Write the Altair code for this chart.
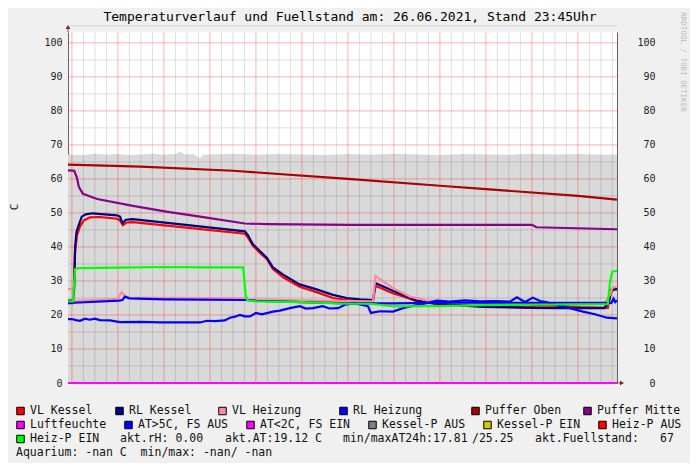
import altair as alt
import pandas as pd

# ---------------- data (time in hours after Sat 00:00) ----------------
fuell_h = [-0.17, 0.5, 1.0, 1.5, 2.0, 2.5, 3.0, 3.5, 4.0, 4.5, 4.7, 4.9, 5.3, 5.57, 5.7, 6.0, 7.0, 8.0,
           9.0, 10.0, 11.0, 12.0, 13.0, 14.0, 15.0, 16.0, 17.0, 18.0, 19.0, 20.0, 21.0, 22.0, 23.0, 23.7]
fuell_v = [67.2, 67.0, 67.4, 67.1, 67.3, 67.0, 67.2, 67.4, 67.1, 67.3, 68.0, 67.2, 67.3, 65.9, 67.0, 67.2, 67.4, 67.1,
           67.3, 67.2, 67.0, 67.3, 67.1, 67.4, 67.2, 67.0, 67.3, 67.2, 67.1, 67.4, 67.2, 67.3, 67.1, 67.2]

vl_kessel_h = [-0.17, 0.05, 0.07, 0.13, 0.22, 0.35, 0.52, 0.78, 1.2, 1.96, 2.09, 2.22, 2.39, 2.65, 7.52, 7.65, 7.87,
               8.17, 8.48, 8.74, 9.2, 9.9, 10.6, 11.35, 11.95, 12.52, 13.09, 13.2, 13.6, 13.95, 14.5, 15.0, 16.0,
               17.87, 19.9, 20.2, 21.2, 22.1, 23.3, 23.43, 23.57, 23.7]
vl_kessel_v = [23.5, 23.5, 24.0, 38.0, 43.5, 46.0, 47.8, 48.7, 48.8, 48.3, 47.8, 46.4, 47.2, 47.3, 43.9, 42.8, 40.3,
               38.3, 36.4, 33.5, 31.0, 28.3, 26.8, 25.0, 24.4, 24.0, 23.9, 28.6, 27.4, 26.4, 25.2, 24.0, 23.1,
               22.6, 22.3, 22.8, 22.7, 22.3, 22.1, 26.5, 27.6, 27.6]

rl_kessel_h = [-0.17, 0.05, 0.1, 0.14, 0.2, 0.3, 0.43, 0.6, 0.9, 1.96, 2.09, 2.2, 2.35, 2.65, 7.52, 7.65, 7.87,
               8.17, 8.48, 8.74, 9.2, 9.9, 10.6, 11.35, 11.95, 12.52, 13.09, 13.2, 13.95, 15.0, 16.0, 17.87,
               19.9, 21.2, 23.15, 23.35, 23.45, 23.7]
rl_kessel_v = [24.2, 24.2, 28.0, 40.0, 44.5, 46.5, 48.9, 49.6, 49.9, 49.3, 48.9, 47.0, 48.0, 48.2, 44.6, 43.5, 40.8,
               38.8, 36.8, 34.0, 31.8, 29.0, 27.6, 25.9, 25.0, 24.6, 24.4, 29.4, 27.1, 24.2, 23.2, 22.4,
               22.1, 22.0, 22.0, 24.0, 27.4, 27.6]

vl_heizung_h = [-0.17, 0.03, 0.08, 0.5, 1.5, 2.0, 2.09, 2.17, 2.3, 2.5, 4.0, 7.52, 7.65, 10.0, 12.0, 13.09, 13.2,
                13.4, 13.95, 14.7, 15.43, 16.5, 20.0, 23.15, 23.4, 23.5, 23.7]
vl_heizung_v = [27.6, 27.6, 24.1, 24.3, 24.6, 24.8, 26.0, 26.6, 25.6, 25.1, 25.0, 24.9, 24.6, 24.3, 24.1, 24.0, 31.5,
                30.5, 27.9, 25.4, 24.3, 23.8, 23.5, 23.3, 26.0, 28.0, 28.3]

rl_heizung_h = [-0.17, 0.1, 2.04, 2.2, 2.3, 2.5, 4.0, 7.52, 8.0, 10.0, 12.0, 14.0, 16.0, 20.0, 23.3, 23.45, 23.55,
                23.62, 23.7]
rl_heizung_v = [23.5, 23.6, 24.2, 24.4, 25.4, 24.9, 24.6, 24.4, 24.2, 23.8, 23.4, 23.4, 23.6, 23.6, 23.6, 23.5, 24.8,
                23.8, 24.3]

puffer_oben_h = [-0.17, 3.0, 7.0, 12.0, 16.0, 18.0, 22.0, 23.7]
puffer_oben_v = [64.2, 63.6, 62.4, 60.0, 58.0, 57.0, 55.0, 53.9]

puffer_mitte_h = [-0.17, 0.1, 0.22, 0.3, 0.48, 1.1, 2.65, 4.1, 5.57, 7.52, 8.5, 12.09, 20.0, 20.2, 23.7]
puffer_mitte_v = [62.5, 62.4, 60.3, 57.7, 55.6, 54.1, 52.1, 50.4, 48.9, 46.9, 46.7, 46.5, 46.5, 45.8, 45.2]

luftfeuchte_h = [-0.17, 23.7]
luftfeuchte_v = [0.0, 0.0]

at_h = [-0.17, 0.0, 0.17, 0.35, 0.57, 0.78, 1.0, 1.22, 1.65, 2.09, 2.96, 3.83, 4.7, 5.57, 5.87, 6.22, 6.65, 6.87,
        7.09, 7.3, 7.52, 7.74, 8.0, 8.26, 8.74, 9.04, 9.48, 9.91, 10.17, 10.48, 10.9, 11.2, 11.57, 11.87, 12.3,
        12.87, 13.0, 13.39, 13.96, 14.39, 14.9, 15.43, 15.87, 16.43, 17.09, 17.74, 18.39, 19.04, 19.35, 19.7,
        20.04, 20.35, 20.57, 21.09, 21.65, 22.22, 22.74, 23.26, 23.7]
at_v = [18.8, 18.8, 18.5, 18.3, 18.9, 18.6, 18.9, 18.5, 18.4, 17.9, 18.0, 17.8, 17.8, 17.8, 18.3, 18.2, 18.4, 19.2,
        19.5, 20.0, 19.6, 19.6, 20.6, 20.2, 21.0, 21.3, 22.0, 22.6, 21.9, 22.0, 22.6, 21.9, 22.0, 23.0, 23.4,
        22.6, 20.6, 21.1, 21.0, 22.0, 22.8, 23.5, 24.2, 23.9, 24.3, 24.0, 24.1, 23.9, 25.2, 23.8,
        25.1, 24.1, 23.9, 22.9, 22.0, 21.0, 20.2, 19.2, 19.0]

heizp_h = [-0.17, 0.05, 0.1, 0.14, 0.3, 2.0, 4.0, 6.0, 7.45, 7.55, 7.62, 8.0, 10.0, 12.0, 13.0, 14.0, 16.0, 18.0,
           20.0, 23.3, 23.4, 23.5, 23.7]
heizp_v = [24.0, 24.0, 30.0, 33.5, 33.8, 33.9, 34.1, 34.0, 34.0, 26.0, 24.3, 24.0, 23.8, 23.3, 23.3, 22.5, 22.6, 22.9,
           23.0, 23.2, 30.0, 32.7, 33.0]

# legend
legend_labels = ["VL Kessel", "RL Kessel", "VL Heizung", "RL Heizung", "Puffer Oben", "Puffer Mitte",
                 "Luftfeuchte", "AT>5C, FS AUS", "AT<2C, FS EIN", "Kessel-P AUS", "Kessel-P EIN", "Heiz-P AUS",
                 "Heiz-P EIN"]
legend_colors = ["#FF0000", "#000080", "#FF8C9E", "#0000FF", "#AA0000", "#880088",
                 "#FF00FF", "#0000FF", "#FF00FF", "#808080", "#CCCC00", "#FF0000", "#00FF00"]
info_texts = ["akt.rH: 0.00", "akt.AT:19.12 C", "min/maxAT24h:17.81", "/25.25", "akt.Fuellstand:", "67",
              "Aquarium: -nan C\u00a0\u00a0min/max: -nan/\u00a0-nan"]

title_text = "Temperaturverlauf und Fuellstand am: 26.06.2021, Stand 23:45Uhr"
y_title = "C"
watermark = "RRDTOOL / TOBI OETIKER"

x_tick_hours = [0, 6, 12, 18]
x_tick_labels = ["Sat 00:00", "Sat 06:00", "Sat 12:00", "Sat 18:00"]
y_ticks = [0, 10, 20, 30, 40, 50, 60, 70, 80, 90, 100]

# ---------------- layout ----------------
W, H = 549, 351
MONO = "DejaVu Sans Mono"
xs = alt.Scale(domain=[-0.17, 23.7], nice=False, zero=False)
ys = alt.Scale(domain=[0, 103.2], nice=False, zero=False)

label_expr = ""
for hv, lab in zip(x_tick_hours, x_tick_labels):
    label_expr += f"datum.value == {hv} ? '{lab}' : "
label_expr += "''"

x_axis = alt.Axis(values=x_tick_hours, labelExpr=label_expr, grid=False, ticks=False, domain=True,
                  domainColor="#606060", labelFont=MONO, labelFontSize=10, labelColor="#222222",
                  labelPadding=5, title=None, labelFlush=False)
y_axis_left = alt.Axis(values=y_ticks, grid=False, ticks=False, domainColor="#606060", labelFont=MONO,
                       labelFontSize=10, labelColor="#222222", labelPadding=6, title=None)
y_axis_right = alt.Axis(orient="right", values=y_ticks, grid=False, ticks=False, domainColor="#606060",
                        labelFont=MONO, labelFontSize=10, labelColor="#222222", labelPadding=38,
                        labelAlign="right", title=None)


def frame(h, v):
    return pd.DataFrame({"h": h, "v": v})


layers = []

# filled level area (Fuellstand)
layers.append(alt.Chart(frame(fuell_h, fuell_v)).mark_area(color="#D9D9D9", interpolate="linear").encode(
    x=alt.X("h:Q", scale=xs, axis=x_axis),
    y=alt.Y("v:Q", scale=ys, axis=y_axis_left)))

# grid
minor_x = [i * 0.5 for i in range(0, 48) if i % 4 != 0]
major_x = [i * 2 for i in range(0, 12)]
minor_y = [5 + 10 * i for i in range(0, 11)]
major_y = [10 * i for i in range(1, 11)]
layers.append(alt.Chart(pd.DataFrame({"h": minor_x})).mark_rule(color="#000000", opacity=0.12, strokeWidth=1).encode(
    x=alt.X("h:Q", scale=xs, axis=None)))
layers.append(alt.Chart(pd.DataFrame({"v": minor_y})).mark_rule(color="#000000", opacity=0.12, strokeWidth=1).encode(
    y=alt.Y("v:Q", scale=ys, axis=None)))
layers.append(alt.Chart(pd.DataFrame({"h": major_x})).mark_rule(color="#FF0000", opacity=0.3, strokeWidth=1).encode(
    x=alt.X("h:Q", scale=xs, axis=None)))
layers.append(alt.Chart(pd.DataFrame({"v": major_y})).mark_rule(color="#FF0000", opacity=0.3, strokeWidth=1).encode(
    y=alt.Y("v:Q", scale=ys, axis=None)))

series = [
    (vl_kessel_h, vl_kessel_v, "#FF0000"),
    (rl_kessel_h, rl_kessel_v, "#000080"),
    (vl_heizung_h, vl_heizung_v, "#FF8C9E"),
    (rl_heizung_h, rl_heizung_v, "#0000FF"),
    (puffer_oben_h, puffer_oben_v, "#AA0000"),
    (puffer_mitte_h, puffer_mitte_v, "#880088"),
    (at_h, at_v, "#0000FF"),
    (heizp_h, heizp_v, "#00FF00"),
]
for h, v, c in series:
    layers.append(alt.Chart(frame(h, v)).mark_line(color=c, strokeWidth=2.2).encode(
        x=alt.X("h:Q", scale=xs, axis=None),
        y=alt.Y("v:Q", scale=ys, axis=None)))

# humidity line at zero carries the right axis
layers.append(alt.Chart(frame(luftfeuchte_h, luftfeuchte_v)).mark_line(color="#FF00FF", strokeWidth=2).encode(
    x=alt.X("h:Q", scale=xs, axis=None),
    y=alt.Y("v:Q", scale=ys, axis=y_axis_right)))

one = pd.DataFrame({"a": [0]})
ARROW = "#8B1A1A"
layers.append(alt.Chart(one).mark_rule(color="#606060", strokeWidth=1).encode(
    x=alt.value(0), y=alt.value(-4), y2=alt.value(0)))
layers.append(alt.Chart(one).mark_rule(color="#606060", strokeWidth=1).encode(
    x=alt.value(W), x2=alt.value(W + 3), y=alt.value(H)))
layers.append(alt.Chart(one).mark_point(shape="triangle-up", filled=True, color=ARROW, size=22, opacity=1).encode(
    x=alt.value(0), y=alt.value(-5)))
layers.append(alt.Chart(one).mark_point(shape="triangle-right", filled=True, color=ARROW, size=22, opacity=1).encode(
    x=alt.value(W + 5), y=alt.value(H)))

# title, y title, watermark
layers.append(alt.Chart(one).mark_text(text=title_text, font=MONO, fontSize=13, color="#000000",
                                       align="center", baseline="middle").encode(
    x=alt.value(282), y=alt.value(-15)))
layers.append(alt.Chart(one).mark_text(text=y_title, font=MONO, fontSize=11, color="#222222", angle=270,
                                       align="center", baseline="middle").encode(
    x=alt.value(-53), y=alt.value(175)))
layers.append(alt.Chart(one).mark_text(text=watermark, font=MONO, fontSize=7.5, color="#BBBBBB", angle=90,
                                       align="center", baseline="middle").encode(
    x=alt.value(615), y=alt.value(30)))

# legend layout (pixel positions relative to the plot's top-left corner)
row_y = [379, 393, 407, 421]
text_x = [-38, 61, 164, 285, 417, 529,
          -38, 70, 192, 314, 429, 544,
          -38]
text_row = [0] * 6 + [1] * 6 + [2]
info_x = [52, 157, 275, 404, 467, 592, -52]
info_row = [2, 2, 2, 2, 2, 2, 3]

leg = pd.DataFrame({
    "label": legend_labels,
    "col": legend_colors,
    "tx": text_x,
    "bx": [t - 9.5 for t in text_x],
    "py": [row_y[r] for r in text_row],
})
layers.append(alt.Chart(leg).mark_square(size=56, stroke="#000000", strokeWidth=1, opacity=1).encode(
    x=alt.X("bx:Q", scale=None, axis=None),
    y=alt.Y("py:Q", scale=None, axis=None),
    fill=alt.Fill("col:N", scale=None)))
layers.append(alt.Chart(leg).mark_text(font=MONO, fontSize=11.5, color="#111111", align="left",
                                       baseline="middle").encode(
    x=alt.X("tx:Q", scale=None, axis=None),
    y=alt.Y("py:Q", scale=None, axis=None),
    text="label:N"))
info = pd.DataFrame({"t": info_texts, "tx": info_x, "py": [row_y[r] for r in info_row]})
layers.append(alt.Chart(info).mark_text(font=MONO, fontSize=11.5, color="#111111", align="left",
                                        baseline="middle").encode(
    x=alt.X("tx:Q", scale=None, axis=None),
    y=alt.Y("py:Q", scale=None, axis=None),
    text="t:N"))

chart = alt.layer(*layers).resolve_axis(y="independent").properties(
    width=W, height=H,
    autosize=alt.AutoSizeParams(type="none"),
    padding={"left": 60, "top": 24, "right": 73, "bottom": 80},
    background="#F0F0F0",
).configure_view(fill="#FFFFFF", stroke=None)

chart.save("out.html", embed_options={"renderer": "svg", "actions": False})
